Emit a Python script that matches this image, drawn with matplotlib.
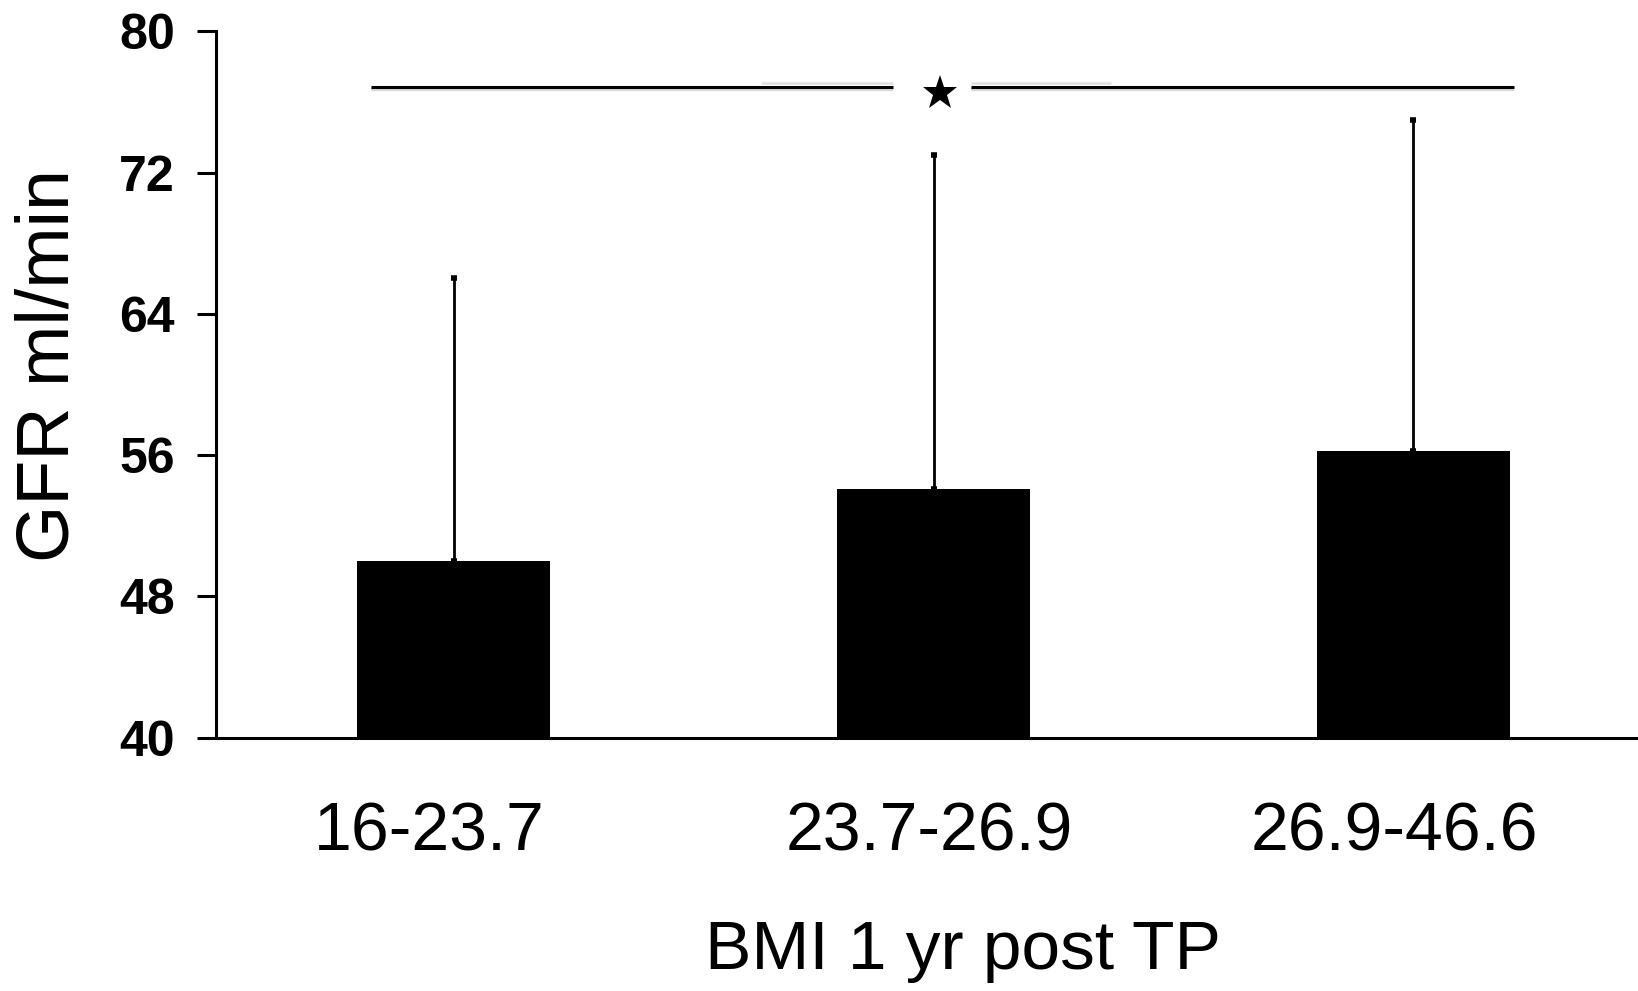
import matplotlib
matplotlib.use("Agg")
import matplotlib.pyplot as plt
import numpy as np

# Dados
groups = ['16-23.7', '23.7-26.9', '26.9-46.6']
gfr_mean = [50.0, 54.1, 56.2]
gfr_sd = [16.0, 18.9, 18.8]
yticks = [40, 48, 56, 64, 72, 80]

# significance bar: y level and the two segments around the star
sig_y = 76.85
sig_left = (-0.173, 0.915)
sig_right = (1.078, 2.21)
star_x, star_y = 1.013, 76.5

# labels sit slightly left of the bar centres in the original
label_shift = [-0.050, -0.009, -0.039]

plt.rcParams['font.family'] = ['Liberation Sans', 'DejaVu Sans']

fig = plt.figure(figsize=(16.38, 9.91), dpi=100)
ax = fig.add_axes([0.132, 0.2558, 0.868, 0.7126])

x = np.arange(len(groups))
ax.bar(x, gfr_mean, width=0.403, color='black', zorder=2)
ax.errorbar(x, gfr_mean, yerr=[np.zeros(len(gfr_sd)), gfr_sd], fmt='none',
            ecolor='black', elinewidth=2.0, capsize=2.5, capthick=4, zorder=1)

# Linha de significância
for seg in (sig_left, sig_right):
    ax.plot(seg, [sig_y - 0.12, sig_y - 0.12], color='#d8d8d8', lw=3, solid_capstyle='butt')
    ax.plot(seg, [sig_y, sig_y], color='black', lw=2.2, solid_capstyle='butt')
ax.plot([0.64, sig_left[1]], [sig_y + 0.2, sig_y + 0.2], color='#e2e2e2', lw=2, solid_capstyle='butt')
ax.plot([sig_right[0], 1.37], [sig_y + 0.2, sig_y + 0.2], color='#e2e2e2', lw=2, solid_capstyle='butt')
ax.plot([star_x], [star_y], marker='*', color='black', markersize=26, markeredgewidth=0)

ax.set_xlim(-0.495, 2.468)
ax.set_ylim(40, 80)
ax.set_yticks(yticks)
ax.set_yticklabels([str(t) for t in yticks], fontsize=36, fontweight='bold')
ax.set_xticks(x + np.array(label_shift))
ax.set_xticklabels(groups, fontsize=49)
ax.tick_params(axis='x', length=0, pad=45)
ax.tick_params(axis='y', length=13.7, width=2.2, pad=16)

for s in ('top', 'right'):
    ax.spines[s].set_visible(False)
for s in ('left', 'bottom'):
    ax.spines[s].set_linewidth(2.2)

ax.set_ylabel('GFR ml/min', fontsize=53)
ax.yaxis.set_label_coords(-0.093, 0.526)
ax.set_xlabel('BMI 1 yr post TP', fontsize=50)
ax.xaxis.set_label_coords(0.525, -0.257)

fig.savefig('out.png', dpi=100)
